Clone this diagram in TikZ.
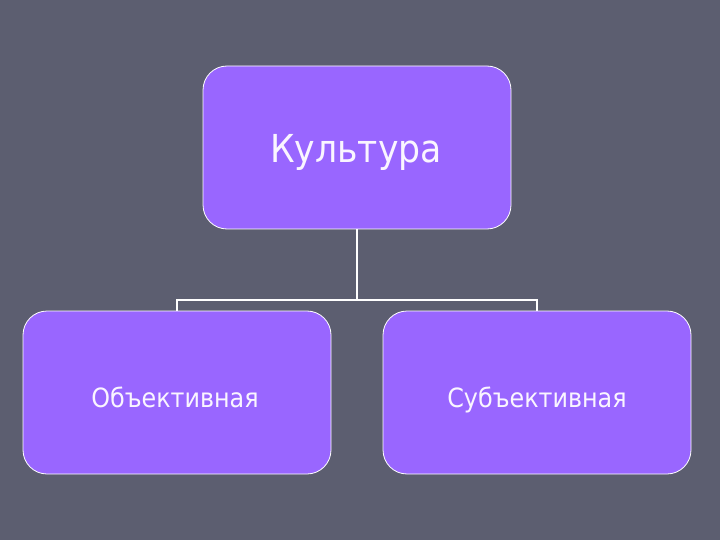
\documentclass[tikz,border=0pt]{standalone}
\usepackage{fontspec}
\setmainfont{DejaVu Sans Condensed}
\definecolor{bg}{RGB}{92,94,112}
\definecolor{boxfill}{RGB}{153,102,255}
\definecolor{txt}{RGB}{250,245,255}
\begin{document}
\begin{tikzpicture}[x=1pt,y=-1pt,
  box/.style={draw=white, line width=0.8pt, fill=boxfill, rounded corners=24pt,
    minimum width=308pt, minimum height=163pt, inner sep=0pt},
  lbl/.style={anchor=base, inner sep=0pt, text=txt},
  conn/.style={draw=white, line width=1.6pt}]
\fill[bg] (0,0) rectangle (720,540);
\useasboundingbox (0,0) rectangle (720,540);
\node[box] (top) at (357,147.5) {};
\node[box] (left) at (177,392.5) {};
\node[box] (right) at (537,392.5) {};
\node[lbl, font=\fontsize{38.5}{44}\selectfont] (ttop) at (356,163) {Культура};
\node[lbl, font=\fontsize{26.5}{30}\selectfont] (tleft) at (175,407) {Объективная};
\node[lbl, font=\fontsize{26.5}{30}\selectfont] (tright) at (537,407) {Субъективная};
\coordinate (mid) at (357,300);
\draw[conn] (top.south) -- (mid);
\draw[conn] (left.north) -- (left.north |- mid) -- (right.north |- mid) -- (right.north);
\end{tikzpicture}
\end{document}
